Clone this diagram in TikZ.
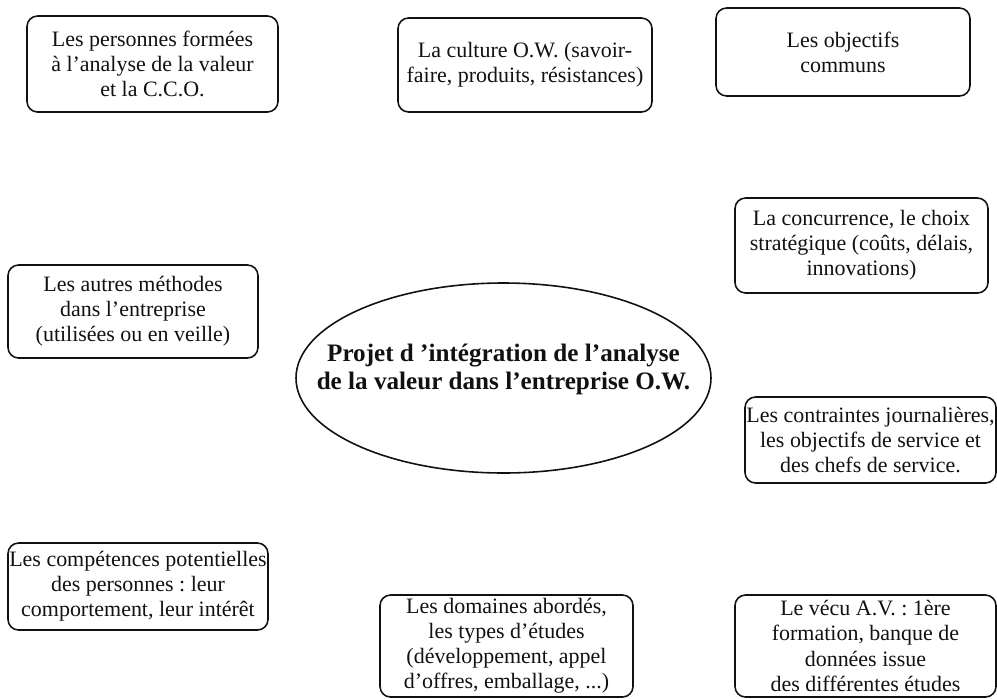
\documentclass[tikz,border=0pt]{standalone}
\usepackage{fontspec}
\setmainfont{Liberation Serif}
\usepackage{tikz}
\usetikzlibrary{shapes.geometric}
\definecolor{inkdark}{HTML}{111111}
\frenchspacing
\tikzset{
  % Factor boxes round the project
  factor/.style={
    draw=inkdark, rounded corners=6pt, line width=0.9pt,
    align=center, inner sep=0pt, text=inkdark,
    font=\fontsize{12.5}{14.3}\selectfont,
  },
  % Central project
  projet/.style={
    draw=inkdark, ellipse, line width=0.9pt, inner sep=0pt,
    minimum width=8.3cm, minimum height=3.8cm,
  },
  projettext/.style={
    align=center, text=inkdark,
    font=\fontsize{14.3}{16.3}\selectfont\bfseries,
  },
}
\begin{document}
\begin{tikzpicture}
  \useasboundingbox (0,0) rectangle (19.94,-13.96);
  % centre
  \node[projet] (proj) at (10.07,-7.56) {};
  \node[projettext] (projtitle) at ([yshift=0.17cm]proj.center)
    {Projet d 'intégration de l'analyse\\de la valeur dans l'entreprise O.W.};
  % top row
  \node[factor, minimum width=5.02cm, minimum height=1.92cm] (formes) at (3.05,-1.28)
    {Les personnes formées\\à l'analyse de la valeur\\et la C.C.O.};
  \node[factor, minimum width=5.08cm, minimum height=1.88cm] (culture) at (10.50,-1.30)
    {La culture O.W. (savoir-\\faire, produits, résistances)};
  \node[factor, minimum width=5.08cm, minimum height=1.76cm] (objectifs) at (16.86,-1.04)
    {Les objectifs\\communs};
  % sides
  \node[factor, minimum width=5.06cm, minimum height=1.90cm] (concurrence) at (17.23,-4.91)
    {La concurrence, le choix\\stratégique (coûts, délais,\\innovations)};
  \node[factor, minimum width=5.00cm, minimum height=1.86cm] (methodes) at (2.66,-6.23)
    {Les autres méthodes\\dans l'entreprise\\(utilisées ou en veille)};
  \node[factor, minimum width=5.02cm, minimum height=1.72cm] (contraintes) at (17.41,-8.80)
    {Les contraintes journalières,\\les objectifs de service et\\des chefs de service.};
  % bottom row
  \node[factor, minimum width=5.20cm, minimum height=1.74cm] (competences) at (2.76,-11.73)
    {Les compétences potentielles\\des personnes : leur\\comportement, leur intérêt};
  \node[factor, minimum width=5.06cm, minimum height=2.04cm] (domaines) at (10.13,-12.92)
    {Les domaines abordés,\\les types d'études\\(développement, appel\\d'offres, emballage, ...)};
  \node[factor, minimum width=5.22cm, minimum height=2.04cm] (vecu) at (17.31,-12.92)
    {Le vécu A.V. : 1ère\\formation, banque de\\données issue\\des différentes études};
\end{tikzpicture}
\end{document}
